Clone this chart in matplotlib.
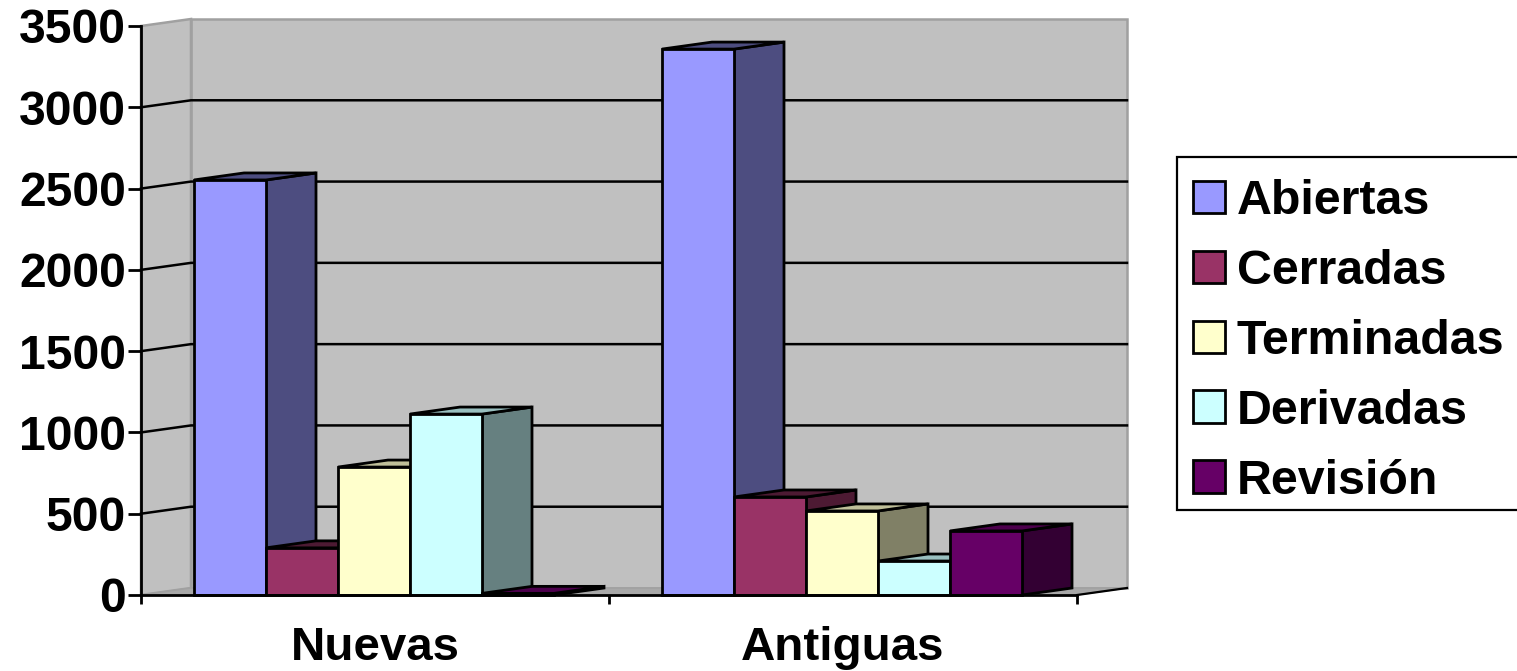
import matplotlib
matplotlib.use("Agg")
import matplotlib.pyplot as plt
from matplotlib.patches import Patch, Polygon, Rectangle

plt.rcParams["font.family"] = ["Liberation Sans", "DejaVu Sans"]

categories = ["Nuevas", "Antiguas"]
series = ["Abiertas", "Cerradas", "Terminadas", "Derivadas", "Revisión"]
abiertas = [2553, 3358]
cerradas = [290, 603]
terminadas = [787, 517]
derivadas = [1113, 209]
revision = [10, 394]
values = [abiertas, cerradas, terminadas, derivadas, revision]
yticks = [0, 500, 1000, 1500, 2000, 2500, 3000, 3500]

front_colors = ["#9999FF", "#993366", "#FFFFCC", "#CCFFFF", "#660066"]
side_colors = ["#4D4D80", "#4D1A33", "#808066", "#668080", "#330033"]
top_colors = ["#4D4D80", "#4D1A33", "#BFBF99", "#99BFBF", "#4D004D"]

W, H = 1517, 671
WALL = "#C0C0C0"
EDGE = "#A0A0A0"
LW = 2.0

# depth of the fake 3d box, in data units (50px across, 7px up)
depth_x = 50 / 468
depth_y = 7 / 569 * 3500
gap = 53 / 468
bar_w = 72 / 468

fig = plt.figure(figsize=(W / 100, H / 100), dpi=100)
ax = fig.add_axes([141 / W, 1 - 595 / H, 936 / W, 569 / H])
ax.set_xlim(0, 2)
ax.set_ylim(0, 3500)
ax.patch.set_visible(False)

# walls and floor
ax.add_patch(Polygon([(depth_x, depth_y), (2 + depth_x, depth_y), (2 + depth_x, 3500 + depth_y),
                      (depth_x, 3500 + depth_y)], closed=True, fc=WALL, ec=EDGE, lw=1.8,
                     clip_on=False, zorder=1))
ax.add_patch(Polygon([(0, 0), (depth_x, depth_y), (depth_x, 3500 + depth_y), (0, 3500)],
                     closed=True, fc=WALL, ec=EDGE, lw=1.8, clip_on=False, zorder=1))
ax.add_patch(Polygon([(0, 0), (2, 0), (2 + depth_x, depth_y), (depth_x, depth_y)],
                     closed=True, fc="#A8A8A8", ec=EDGE, lw=1, clip_on=False, zorder=1))
ax.plot([2, 2 + depth_x], [0, depth_y], color="black", lw=1.6, clip_on=False, zorder=2)

# gridlines run along the side wall then across the back
for t in yticks[1:-1]:
    ax.plot([0, depth_x, 2 + depth_x], [t, t + depth_y, t + depth_y], color="black", lw=1.8,
            clip_on=False, zorder=2, solid_joinstyle="miter")

z = 3
for c in range(len(categories)):
    for s in range(len(series)):
        left = c + gap + s * bar_w
        v = values[s][c]
        right = left + bar_w
        side = [(right, 0), (right + depth_x, depth_y), (right + depth_x, v + depth_y), (right, v)]
        top = [(left, v), (right, v), (right + depth_x, v + depth_y), (left + depth_x, v + depth_y)]
        ax.add_patch(Polygon(side, closed=True, fc=side_colors[s], ec="black", lw=LW,
                             clip_on=False, zorder=z, joinstyle="miter"))
        ax.add_patch(Polygon(top, closed=True, fc=top_colors[s], ec="black", lw=LW,
                             clip_on=False, zorder=z, joinstyle="miter"))
        ax.bar(left, v, bar_w, align="edge", color=front_colors[s], edgecolor="black", linewidth=LW,
               zorder=z + 0.5, clip_on=False)
        z += 1

for name in ["top", "right"]:
    ax.spines[name].set_visible(False)
for name in ["left", "bottom"]:
    ax.spines[name].set_linewidth(LW)
    ax.spines[name].set_zorder(50)

ax.set_yticks(yticks)
ax.tick_params(axis="y", length=9.4, width=LW, pad=1.5, labelsize=34.6)
ax.set_xticks([0, 1, 2])
ax.set_xticklabels([])
ax.set_xticks([0.5, 1.5], minor=True)
ax.set_xticklabels(categories, minor=True)
ax.tick_params(axis="x", which="major", length=6.5, width=LW)
ax.tick_params(axis="x", which="minor", length=0, pad=22, labelsize=34.2)
for lab in ax.get_xticklabels(minor=True) + ax.get_yticklabels():
    lab.set_fontweight("bold")

# legend frame runs off the right edge of the picture
fig.add_artist(Rectangle((1177 / W, 1 - 510 / H), 350 / W, 353 / H, transform=fig.transFigure,
                         fc="white", ec="black", lw=1.6, zorder=-1))
handles = [Patch(facecolor=f, edgecolor="black", linewidth=LW, label=n)
           for f, n in zip(front_colors, series)]
leg = ax.legend(handles=handles, loc="upper left", bbox_to_anchor=(1193 / W, 1 - 179 / H),
                bbox_transform=fig.transFigure, borderaxespad=0, borderpad=0, frameon=False,
                prop={"family": "Liberation Sans", "weight": "bold", "size": 34.8},
                handlelength=0.66, handleheight=0.66, handletextpad=0.25, labelspacing=0.515)
leg.set_zorder(60)

fig.savefig("out.png", dpi=100)
